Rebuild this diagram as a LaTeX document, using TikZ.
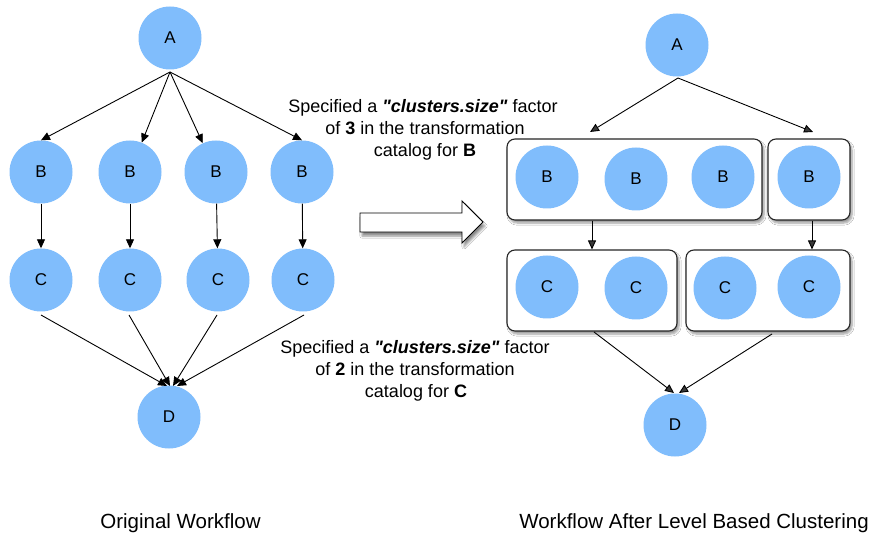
\documentclass[tikz,border=0pt]{standalone}
\usepackage{fontspec}
\setmainfont{Liberation Sans}
\usetikzlibrary{arrows.meta,shadows.blur}

\definecolor{nodeblue}{RGB}{128,189,252}

\begin{document}
\begin{tikzpicture}[x=1pt,y=-1pt,
  job/.style={circle,fill=nodeblue,minimum size=63pt,inner sep=0pt,
    font=\fontsize{17}{20}\selectfont},
  link/.style={line width=0.9pt,-{Triangle[length=9pt,width=8pt]}},
  cluster/.style={draw=black!85,line width=1.1pt,rounded corners=8pt,fill=white,
    minimum height=81pt,inner sep=0pt,
    blur shadow={shadow xshift=2pt,shadow yshift=-3pt,shadow blur steps=6,shadow opacity=40}},
  note/.style={font=\fontsize{18}{22}\selectfont,anchor=base},
  caption/.style={font=\fontsize{20.5}{24}\selectfont,anchor=base}]

\useasboundingbox[fill=white] (0,0) rectangle (875,534);

% ---------- original workflow ----------
\node[job] (A) at (170,38) {A};
\node[job] (B1) at (41,172) {B};
\node[job] (B2) at (130,172) {B};
\node[job] (B3) at (216,172) {B};
\node[job] (B4) at (302,172) {B};
\node[job] (C1) at (41,280) {C};
\node[job] (C2) at (130,280) {C};
\node[job] (C3) at (218,280) {C};
\node[job] (C4) at (303,280) {C};
\node[job] (D) at (169,417) {D};

\coordinate (Aout) at (170,72);
\draw[link] (Aout) -- (B1.north);
\draw[link] (Aout) -- (B2);
\draw[link] (Aout) -- (B3);
\draw[link] (Aout) -- (B4.north);

\foreach \i in {1,...,4} \draw[link] (B\i) -- (C\i);

\coordinate (C1out) at (41,315);
\coordinate (C2out) at (129,315);
\coordinate (C3out) at (217,315);
\coordinate (C4out) at (304,315);
\coordinate (Din1) at (167,386);
\coordinate (Din2) at (170,386);
\coordinate (Din3) at (173,386);
\coordinate (Din4) at (177,386);
\foreach \i in {1,...,4} \draw[link] (C\i out) -- (Din\i);

% ---------- transformation arrow ----------
\draw[fill=white,line width=0.9pt,
  blur shadow={shadow xshift=2pt,shadow yshift=-4pt,shadow blur steps=6,shadow opacity=45}]
  (360,213) -- (462,213) -- (462,201) -- (483,222) -- (462,243) -- (462,232) -- (360,232) -- cycle;

% ---------- notes ----------
\newcommand{\factorname}{\textbf{\textit{\textquotedbl clusters.size\textquotedbl}}}
\node[note] (n1a) at (423,113) {Specified a \factorname{} factor};
\node[note] (n1b) at (425,135) {of \textbf{3} in the transformation};
\node[note] (n1c) at (425,157) {catalog for \textbf{B}};

\node[note] (n2a) at (415,353) {Specified a \factorname{} factor};
\node[note] (n2b) at (415,375) {of \textbf{2} in the transformation};
\node[note] (n2c) at (416,397) {catalog for \textbf{C}};

% ---------- clustered workflow ----------
\node[cluster,minimum width=255pt] (Kb1) at (634.5,179.5) {};
\node[cluster,minimum width=82pt] (Kb2) at (809,179.5) {};
\node[cluster,minimum width=170pt] (Kc1) at (592,290.5) {};
\node[cluster,minimum width=164pt] (Kc2) at (768,290.5) {};

\node[job] (RA) at (677,45) {A};
\node[job] (RB1) at (547,177) {B};
\node[job] (RB2) at (636,179) {B};
\node[job] (RB3) at (723,177) {B};
\node[job] (RB4) at (809,177) {B};
\node[job] (RC1) at (547,287) {C};
\node[job] (RC2) at (636,288) {C};
\node[job] (RC3) at (725,288) {C};
\node[job] (RC4) at (809,287) {C};
\node[job] (RD) at (675,425) {D};

\coordinate (RAout) at (678,78);
\coordinate (Kb1in) at (590,132);
\coordinate (Kb2in) at (813,132);
\draw[link] (RAout) -- (Kb1in);
\draw[link] (RAout) -- (Kb2in);

\draw[link] (Kc1.north |- Kb1.south) -- (Kc1.north);
\draw[link] ([xshift=3pt]Kb2.south) -- ([xshift=3pt]Kb2.south |- Kc2.north);

\coordinate (Kc1out) at (594,332);
\coordinate (Kc2out) at (772,334);
\coordinate (RDin1) at (674,393);
\coordinate (RDin2) at (679,393);
\draw[link] (Kc1out) -- (RDin1);
\draw[link] (Kc2out) -- (RDin2);

% ---------- captions ----------
\node[caption] (cap1) at (180.5,528) {Original Workflow};
\node[caption] (cap2) at (694,528) {Workflow After Level Based Clustering};

\end{tikzpicture}
\end{document}
